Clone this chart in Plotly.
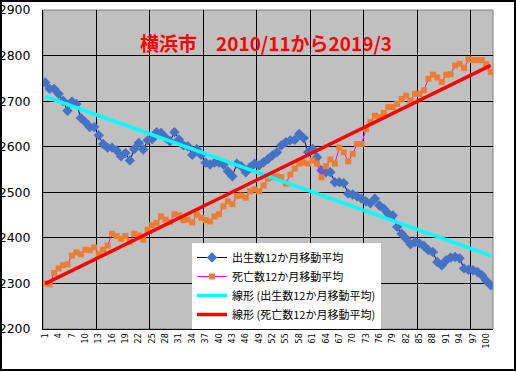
import numpy as np
import plotly.graph_objects as go

months = list(range(1, 102))
tick_values = list(range(1, 102, 3))
tick_labels = [str(v) for v in tick_values]

births = [2741, 2727, 2727, 2716, 2701, 2679, 2699, 2694, 2663, 2654,
          2643, 2643, 2625, 2606, 2598, 2598, 2592, 2579, 2586, 2570,
          2595, 2608, 2594, 2614, 2617, 2632, 2630, 2620, 2612, 2632,
          2616, 2603, 2601, 2582, 2595, 2582, 2565, 2561, 2565, 2565,
          2561, 2546, 2535, 2563, 2557, 2544, 2555, 2563, 2559, 2566,
          2573, 2581, 2588, 2603, 2610, 2614, 2615, 2628, 2619, 2588,
          2595, 2577, 2548, 2544, 2544, 2522, 2522, 2520, 2497, 2495,
          2491, 2486, 2480, 2476, 2486, 2471, 2464, 2453, 2449, 2424,
          2409, 2398, 2386, 2391, 2388, 2382, 2373, 2369, 2347, 2340,
          2351, 2357, 2358, 2355, 2333, 2330, 2329, 2325, 2318, 2306,
          2296]

deaths = [2300, 2298, 2323, 2333, 2340, 2342, 2361, 2368, 2364, 2374,
          2373, 2379, 2364, 2374, 2383, 2409, 2404, 2398, 2404, 2392,
          2409, 2405, 2396, 2418, 2428, 2433, 2447, 2440, 2435, 2452,
          2449, 2439, 2440, 2434, 2451, 2444, 2439, 2436, 2447, 2452,
          2469, 2480, 2474, 2492, 2493, 2488, 2502, 2506, 2502, 2515,
          2530, 2533, 2535, 2533, 2519, 2539, 2552, 2563, 2565, 2563,
          2570, 2563, 2533, 2557, 2572, 2563, 2598, 2588, 2568, 2584,
          2606, 2606, 2639, 2654, 2668, 2665, 2674, 2687, 2687, 2694,
          2705, 2712, 2701, 2716, 2716, 2724, 2749, 2758, 2752, 2742,
          2758, 2759, 2778, 2782, 2773, 2792, 2790, 2790, 2790, 2781,
          2764]

name_b = "出生数12か月移動平均"
name_d = "死亡数12か月移動平均"
name_tb = "線形 (出生数12か月移動平均)"
name_td = "線形 (死亡数12か月移動平均)"
title_text = "横浜市　2010/11から2019/3"

xa = np.array(months, dtype=float)
cb = np.polyfit(xa, np.array(births, dtype=float), 1)
cd = np.polyfit(xa, np.array(deaths, dtype=float), 1)
x_ends = [months[0], months[-1]]
trend_b = [float(np.polyval(cb, v)) for v in x_ends]
trend_d = [float(np.polyval(cd, v)) for v in x_ends]

fig = go.Figure()
fig.add_trace(go.Scatter(x=months, y=births, name=name_b, mode="lines+markers",
                         line=dict(color="#000080", width=1),
                         marker=dict(symbol="diamond", size=8, color="#4472C4")))
fig.add_trace(go.Scatter(x=months, y=deaths, name=name_d, mode="lines+markers",
                         line=dict(color="#FF00FF", width=1),
                         marker=dict(symbol="square", size=6, color="#ED7D31")))
fig.add_trace(go.Scatter(x=x_ends, y=trend_b, name=name_tb, mode="lines",
                         line=dict(color="#00FFFF", width=3.5)))
fig.add_trace(go.Scatter(x=x_ends, y=trend_d, name=name_td, mode="lines",
                         line=dict(color="#FF0000", width=3.5)))

W, H = 516, 372
ml, mr, mt, mb = 43, 23, 10, 43
pw, ph = W - ml - mr, H - mt - mb

fig.update_layout(
    width=W, height=H,
    margin=dict(l=ml, r=mr, t=mt, b=mb, pad=0, autoexpand=False),
    paper_bgcolor="white",
    plot_bgcolor="#C0C0C0",
    font=dict(family="DejaVu Sans", color="black"),
    showlegend=True,
    legend=dict(x=(192 - ml) / pw, y=0, xanchor="left", yanchor="bottom",
                bgcolor="white", borderwidth=0,
                font=dict(family="Noto Sans CJK JP", size=11, color="black"),
                tracegroupgap=0, itemwidth=30),
    xaxis=dict(range=[0.5, 101.5], tickmode="array", tickvals=tick_values,
               ticktext=tick_labels, tickangle=-90, showgrid=False, automargin=False,
               zeroline=False, showline=True, linecolor="black", linewidth=1,
               ticks="", tickfont=dict(family="DejaVu Sans", size=8),
               minor=dict(tickmode="linear", tick0=0.5, dtick=12, showgrid=True,
                          gridcolor="black", gridwidth=1, ticks="")),
    yaxis=dict(range=[2200, 2900], dtick=100, showgrid=True, gridcolor="black",
               gridwidth=1, zeroline=False, showline=True, linecolor="black",
               linewidth=1, ticks="", ticklabelstandoff=9, automargin=False,
               tickfont=dict(family="DejaVu Sans", size=12.5)),
    annotations=[dict(text=title_text, xref="paper", yref="paper", x=0.495, y=(H - mb - 43) / ph,
                      xanchor="center", yanchor="middle", showarrow=False,
                      font=dict(family="Noto Sans CJK JP", size=19, color="#FF0000", weight="bold"))],
    shapes=[
        dict(type="rect", xref="paper", yref="paper", x0=0, x1=1, y0=0, y1=1,
             line=dict(color="#808080", width=1), layer="below"),
        dict(type="rect", xref="paper", yref="paper",
             x0=(-ml + 1) / pw, x1=1 + (mr - 1) / pw,
             y0=(-mb + 2) / ph, y1=1 + (mt - 1) / ph,
             line=dict(color="black", width=2)),
    ],
)

fig.write_html("out.html", config={"displayModeBar": False},
               post_script="document.body.style.margin='0';document.body.style.overflow='hidden';")
